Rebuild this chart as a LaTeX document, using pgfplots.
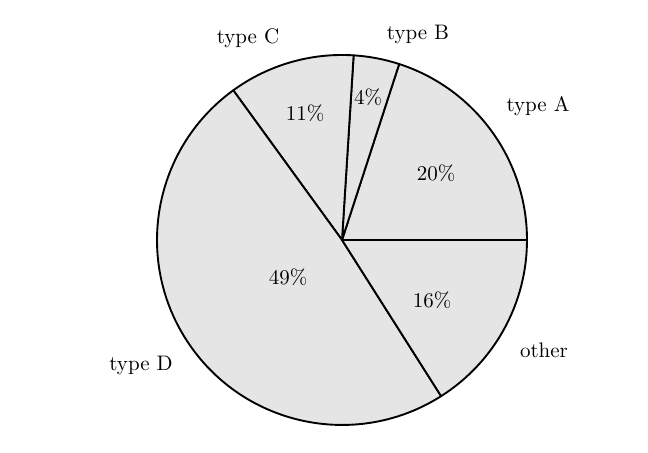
\documentclass[border=0pt]{standalone}
\usepackage{pgfplots}
\pgfplotsset{compat=1.18}
\usepackage{pgfplotstable}

% share in percent, label positions in pixel units (y from top)
\pgfplotstableread[col sep=comma]{
label,pct,px,py,nx,ny
type A,20,436,173,538,106
type B,4,368,97,418,34
type C,11,305,113,248,38
type D,49,288,277,141,366
other,16,432,300,544,350
}\piedata

\def\R{88.1pt}

\begin{document}
\begin{tikzpicture}
\begin{axis}[
    width=308.6pt, height=215.7pt, scale only axis,
    xmin=0, xmax=648, ymin=0, ymax=453, y dir=reverse,
    hide axis, clip=false,
  ]
  \path (axis cs:0,0) rectangle (axis cs:648,453);
  \def\cum{0}
  \pgfplotsforeachungrouped \i in {0,...,4}{
    \pgfplotstablegetelem{\i}{pct}\of\piedata
    \pgfmathsetmacro\a{3.6*\cum}
    \pgfmathsetmacro\cumnew{\cum+\pgfplotsretval}
    \pgfmathsetmacro\b{3.6*\cumnew}
    \global\let\cum\cumnew
    \edef\sector{\noexpand\filldraw[fill=black!10, line width=0.9pt, line join=round]
      (axis cs:342,240) -- ++(\a:\R) arc[start angle=\a, end angle=\b, radius=\R] -- cycle;}
    \sector
  }
  \addplot[draw=none, mark=none, point meta=explicit,
    nodes near coords={\pgfmathprintnumber{\pgfplotspointmeta}\%},
    nodes near coords style={anchor=center, text=black}]
    table[x=px, y=py, meta=pct] {\piedata};
  \addplot[draw=none, mark=none, point meta=explicit symbolic,
    nodes near coords,
    nodes near coords style={anchor=center, text=black}]
    table[x=nx, y=ny, meta=label] {\piedata};
\end{axis}
\end{tikzpicture}
\end{document}
